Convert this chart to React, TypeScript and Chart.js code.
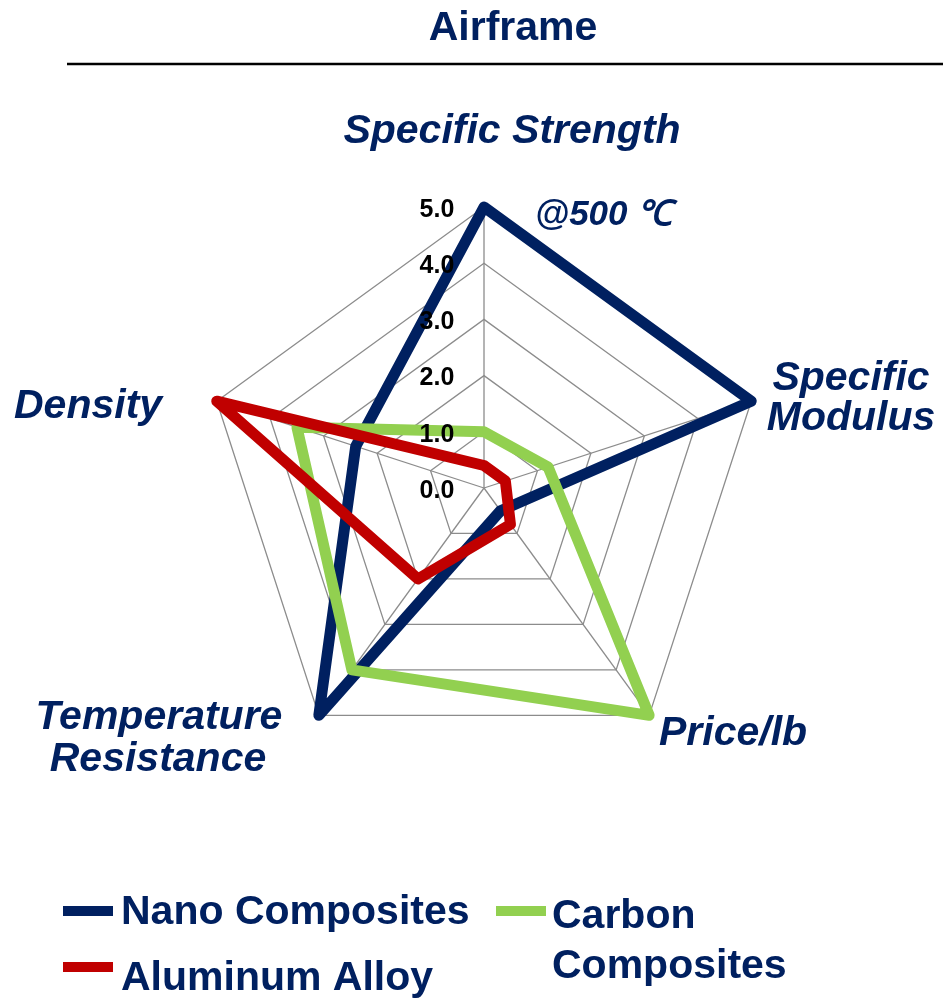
import React, { useEffect, useRef } from "react";
import { Chart, registerables } from "chart.js";

Chart.register(...registerables);

const TITLE = "Airframe";
const AXES = ["Specific Strength @500 ℃", "Specific Modulus", "Price/lb", "Temperature Resistance", "Density"];
const TICKS = [0, 1, 2, 3, 4, 5];
const TICK_LABELS = ["0.0", "1.0", "2.0", "3.0", "4.0", "5.0"];

const SERIES_NAMES = ["Nano Composites", "Aluminum Alloy", "Carbon Composites"];
const NANO = [5.0, 5.0, 0.5, 5.0, 2.4];
const ALUMINUM = [0.4, 0.4, 0.8, 2.0, 5.0];
const CARBON = [1.0, 1.2, 5.0, 4.0, 3.5];

const NAVY = "#002060";
const RED = "#C00000";
const GREEN = "#92D050";
const FONT = "'Liberation Sans', Arial, sans-serif";

const textPlugin = {
  id: "customText",
  afterDatasetsDraw(chart: any) {
    const ctx = chart.ctx;
    const scale = chart.scales.r;
    ctx.save();
    ctx.font = `bold 25px ${FONT}`;
    ctx.fillStyle = "#000000";
    ctx.textAlign = "center";
    ctx.textBaseline = "middle";
    TICKS.forEach((v, i) => {
      const d = scale.getDistanceFromCenterForValue(v);
      ctx.fillText(TICK_LABELS[i], scale.xCenter - 47, scale.yCenter - d + 3);
    });
    ctx.restore();
  },
  afterDraw(chart: any) {
    const ctx = chart.ctx;
    ctx.save();
    ctx.textBaseline = "middle";
    // Title
    ctx.fillStyle = NAVY;
    ctx.textAlign = "center";
    ctx.font = `bold 41px ${FONT}`;
    ctx.fillText(TITLE, 513, 29);
    // rule
    ctx.strokeStyle = "#000000";
    ctx.lineWidth = 2.5;
    ctx.beginPath();
    ctx.moveTo(67, 64);
    ctx.lineTo(943, 64);
    ctx.stroke();

    // axis labels
    ctx.font = `italic bold 41px ${FONT}`;
    ctx.textAlign = "center";
    ctx.fillText("Specific Strength", 512, 132);
    ctx.fillText("Specific", 851, 379);
    ctx.fillText("Modulus", 851, 419);
    ctx.fillText("Temperature", 159, 718);
    ctx.fillText("Resistance", 158, 760);
    ctx.textAlign = "left";
    ctx.fillText("Density", 14, 407);
    ctx.fillText("Price/lb", 659, 734);
    ctx.font = `italic bold 35px ${FONT}`;
    ctx.fillText("@500 ℃", 535, 215);

    // legend
    const markers = [
      { color: NAVY, x: 63, y: 911, lines: [SERIES_NAMES[0]], tx: 121, ty: 913 },
      { color: RED, x: 63, y: 967, lines: [SERIES_NAMES[1]], tx: 121, ty: 979 },
      { color: GREEN, x: 496, y: 911, lines: ["Carbon", "Composites"], tx: 552, ty: 917 },
    ];
    ctx.font = `bold 41px ${FONT}`;
    ctx.textAlign = "left";
    markers.forEach((m) => {
      ctx.fillStyle = m.color;
      ctx.fillRect(m.x, m.y - 5, 50, 10);
      ctx.fillStyle = NAVY;
      m.lines.forEach((l, i) => ctx.fillText(l, m.tx, m.ty + i * 50));
    });
    ctx.restore();
  },
};

export default function App() {
  const ref = useRef<HTMLCanvasElement | null>(null);
  useEffect(() => {
    if (!ref.current) return;
    const chart = new Chart(ref.current, {
      type: "radar",
      data: {
        labels: AXES,
        datasets: [
          { label: SERIES_NAMES[0], data: NANO, borderColor: NAVY, order: 3 },
          { label: SERIES_NAMES[1], data: ALUMINUM, borderColor: RED, order: 1 },
          { label: SERIES_NAMES[2], data: CARBON, borderColor: GREEN, order: 2 },
        ].map((d) => ({
          ...d,
          fill: false,
          borderWidth: 11,
          borderJoinStyle: "round" as const,
          pointRadius: 0,
          pointHoverRadius: 0,
          tension: 0,
          clip: false as const,
        })),
      },
      options: {
        responsive: false,
        animation: false,
        layout: { padding: { left: 203, right: 178, top: 207, bottom: 230 } },
        plugins: {
          legend: { display: false },
          title: { display: false },
          tooltip: { enabled: false },
        },
        scales: {
          r: {
            min: 0,
            max: 5,
            ticks: { stepSize: 1, display: false, showLabelBackdrop: false },
            grid: { color: "#8c8c8c", lineWidth: 1.3 },
            angleLines: { color: "#8c8c8c", lineWidth: 1.3 },
            pointLabels: { display: false },
          },
        },
      },
      plugins: [textPlugin],
    });
    return () => chart.destroy();
  }, []);
  return (
    <div style={{ position: "absolute", left: 0, top: 0, width: 943, height: 999, background: "#fff" }}>
      <canvas ref={ref} width={943} height={999} />
    </div>
  );
}
